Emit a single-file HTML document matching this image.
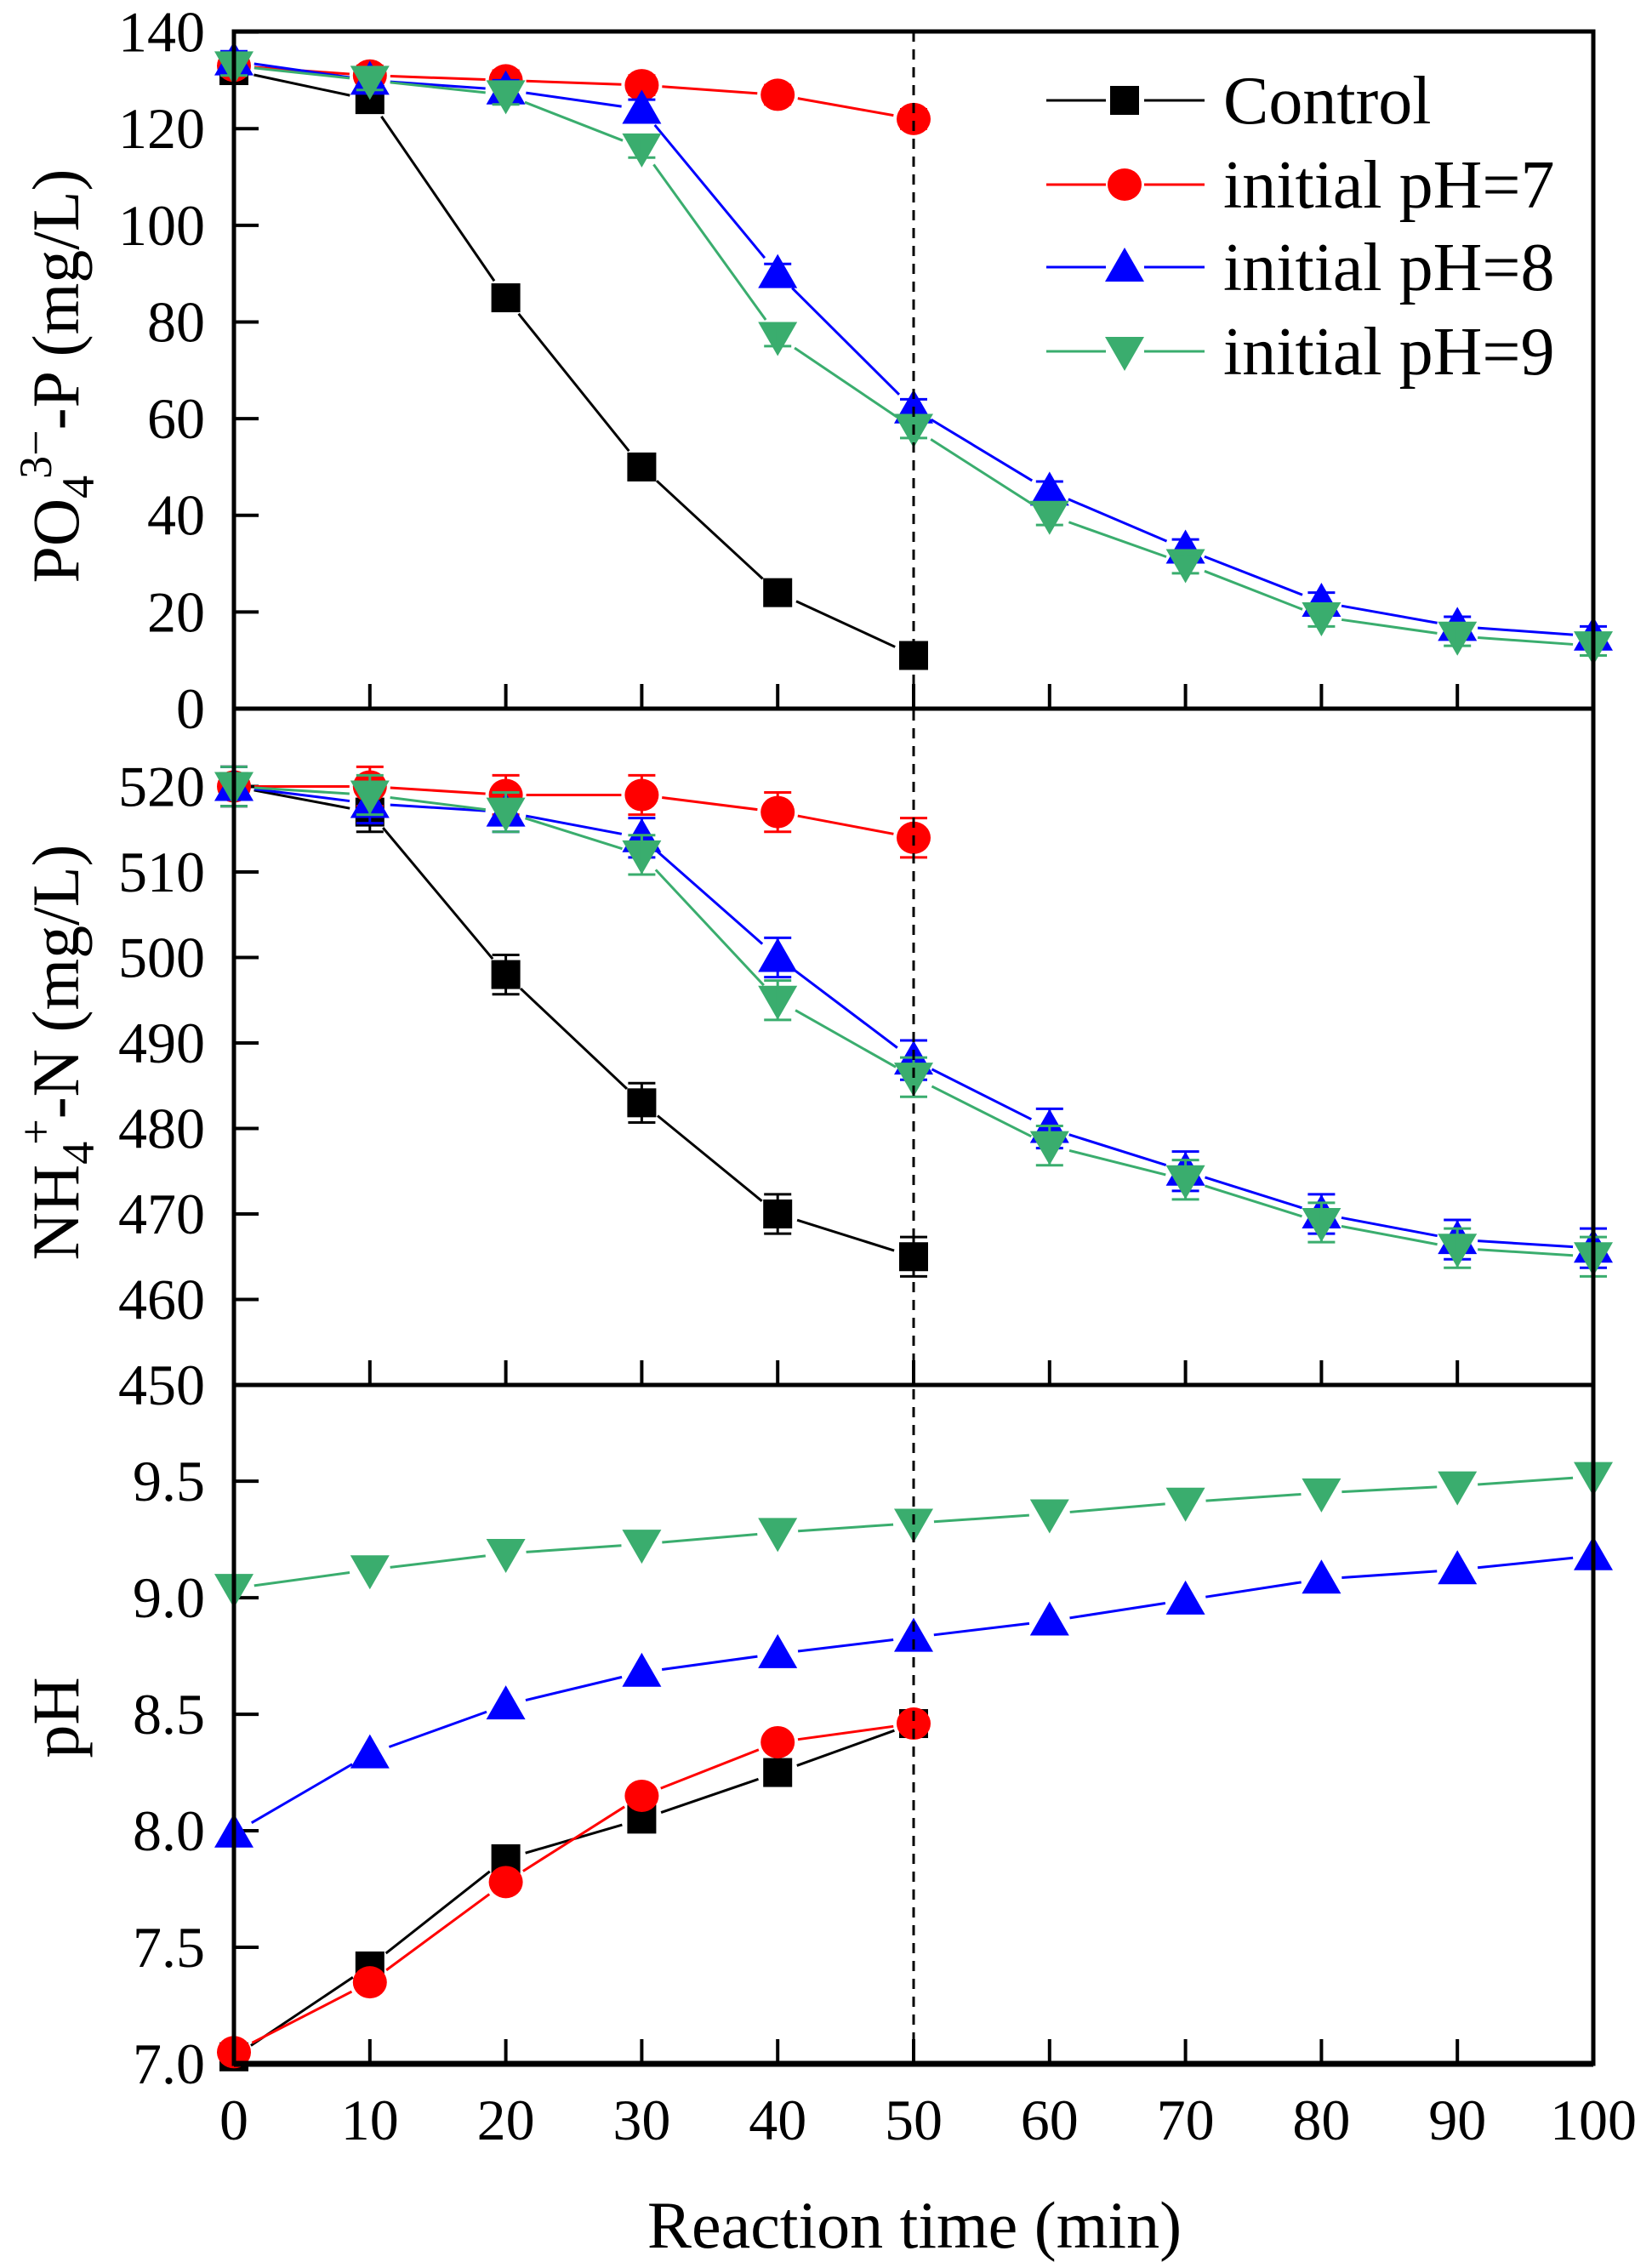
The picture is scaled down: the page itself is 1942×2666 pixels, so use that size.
<!DOCTYPE html>
<html><head><meta charset="utf-8"><style>html,body{margin:0;padding:0;background:#fff}svg{display:block}svg text{font-family:"Liberation Serif","DejaVu Serif",serif}</style></head>
<body>
<svg id="s" xmlns="http://www.w3.org/2000/svg" width="1942" height="2666" viewBox="0 0 1942 2666" style="font-family:'Liberation Serif',serif">
<rect width="1942" height="2666" fill="#fff"/>
<g id="g"></g>
</svg>
<script>
const NS="http://www.w3.org/2000/svg",G=document.getElementById('g');
function el(t,a,txt){const e=document.createElementNS(NS,t);for(const k in a)e.setAttribute(k,a[k]);if(txt!=null)e.textContent=txt;G.appendChild(e);return e;}
const X0=275,X1=1873;const X=v=>X0+v*(X1-X0)/100;
const panels=[
 {top:37,bot:833,min:0,max:140.1,ticks:[0,20,40,60,80,100,120,140],fmt:v=>String(v),eb:2},
 {top:833,bot:1628,min:450,max:529.1,ticks:[450,460,470,480,490,500,510,520],fmt:v=>String(v),eb:2.3},
 {top:1628,bot:2426,min:7,max:9.913,ticks:[7,7.5,8,8.5,9,9.5],fmt:v=>v.toFixed(1),eb:0}
];
const cols={c:"#000",r:"#ff0000",b:"#0000ff",g:"#3aad6e"};
const data=[
 {c:[132,126,85,50,24,11],r:[133,131,130,129,127,122],b:[134,130,128,124,90,62,45,33,22,17,15],g:[133,130,127,116,77,58,40,30,19,15,13]},
 {c:[520,517,498,483,470,465],r:[520,520,519,519,517,514],b:[520,518,517,514,500,488,480,475,470,467,466],g:[520,519,517,512,495,486,478,474,469,466,465]},
 {c:[7.03,7.42,7.88,8.05,8.25,8.46],r:[7.05,7.35,7.78,8.15,8.38,8.46],b:[7.99,8.33,8.54,8.68,8.76,8.83,8.9,8.99,9.08,9.12,9.18],g:[9.04,9.12,9.19,9.23,9.28,9.32,9.36,9.41,9.45,9.48,9.52]}
];
function marker(k,x,y){
 if(k=='c')el('rect',{x:x-17,y:y-17,width:34,height:34,fill:cols.c});
 else if(k=='r')el('ellipse',{cx:x,cy:y,rx:20,ry:19,fill:cols.r});
 else if(k=='b')el('polygon',{points:`${x-23},${y+17} ${x+23},${y+17} ${x},${y-23}`,fill:cols.b});
 else el('polygon',{points:`${x-23},${y-17} ${x+23},${y-17} ${x},${y+23}`,fill:cols.g});
}
panels.forEach((p,i)=>{
 const Y=v=>p.bot-(v-p.min)*(p.bot-p.top)/(p.max-p.min);
 p.ticks.forEach(t=>{const y=Y(t);el('line',{x1:X0,x2:X0+29,y1:y,y2:y,stroke:'#000','stroke-width':4});
  el('text',{x:241,y:y+23,'text-anchor':'end','font-size':68},p.fmt(t));});
 for(let v=10;v<100;v+=10)el('line',{x1:X(v),x2:X(v),y1:p.bot,y2:p.bot-29,stroke:'#000','stroke-width':4});
 ['c','r','b','g'].forEach(k=>{
  const d=data[i][k];const pts=d.map((v,j)=>[X(j*10),Y(v)]);
  for(let j=0;j<pts.length-1;j++){const [ax,ay]=pts[j],[bx,by]=pts[j+1];const L=Math.hypot(bx-ax,by-ay),g=24/L;
   el('line',{x1:ax+(bx-ax)*g,y1:ay+(by-ay)*g,x2:bx-(bx-ax)*g,y2:by-(by-ay)*g,stroke:cols[k],'stroke-width':3});}
  pts.forEach(([x,y])=>{marker(k,x,y);
   if(p.eb){const h=p.eb*(p.bot-p.top)/(p.max-p.min);
    el('path',{d:`M${x},${y-h}V${y+h}M${x-16},${y-h}H${x+16}M${x-16},${y+h}H${x+16}`,stroke:cols[k],'stroke-width':3,fill:'none'});}
  });
 });
});
el('line',{x1:X(50),x2:X(50),y1:37,y2:2426,stroke:'#000','stroke-width':3,'stroke-dasharray':'12,9'});
el('rect',{x:X0,y:37,width:X1-X0,height:2426-37,fill:'none',stroke:'#000','stroke-width':5});
el('line',{x1:X0,x2:X1,y1:833,y2:833,stroke:'#000','stroke-width':5});
el('line',{x1:X0,x2:X1,y1:1628,y2:1628,stroke:'#000','stroke-width':5});
el('line',{x1:X0,x2:X1,y1:2426,y2:2426,stroke:'#000','stroke-width':7});
for(let v=0;v<=100;v+=10)el('text',{x:X(v),y:2515,'text-anchor':'middle','font-size':68},String(v));
el('text',{x:1075,y:2642,'text-anchor':'middle','font-size':78},'Reaction time (min)');
function ylab(cy,html){const t=el('text',{transform:`translate(92,${cy}) rotate(-90)`,'text-anchor':'middle','font-size':78});t.innerHTML=html;}
ylab(442,'PO<tspan font-size="54" dy="18">4</tspan><tspan font-size="54" dy="-50" dx="-4">3−</tspan><tspan dy="32">-P (mg/L)</tspan>');
ylab(1237,'NH<tspan font-size="54" dy="18">4</tspan><tspan font-size="54" dy="-50" dx="-4">+</tspan><tspan dy="32">-N (mg/L)</tspan>');
ylab(2019,'pH');
const lg=[['c','Control',118],['r','initial pH=7',217],['b','initial pH=8',314],['g','initial pH=9',413]];
lg.forEach(([k,t,y])=>{el('line',{x1:1230,x2:1300,y1:y,y2:y,stroke:cols[k],'stroke-width':3});
 el('line',{x1:1345,x2:1416,y1:y,y2:y,stroke:cols[k],'stroke-width':3});marker(k,1322,y);
 el('text',{x:1438,y:y+27,'font-size':80},t);});
</script>
</body></html>
